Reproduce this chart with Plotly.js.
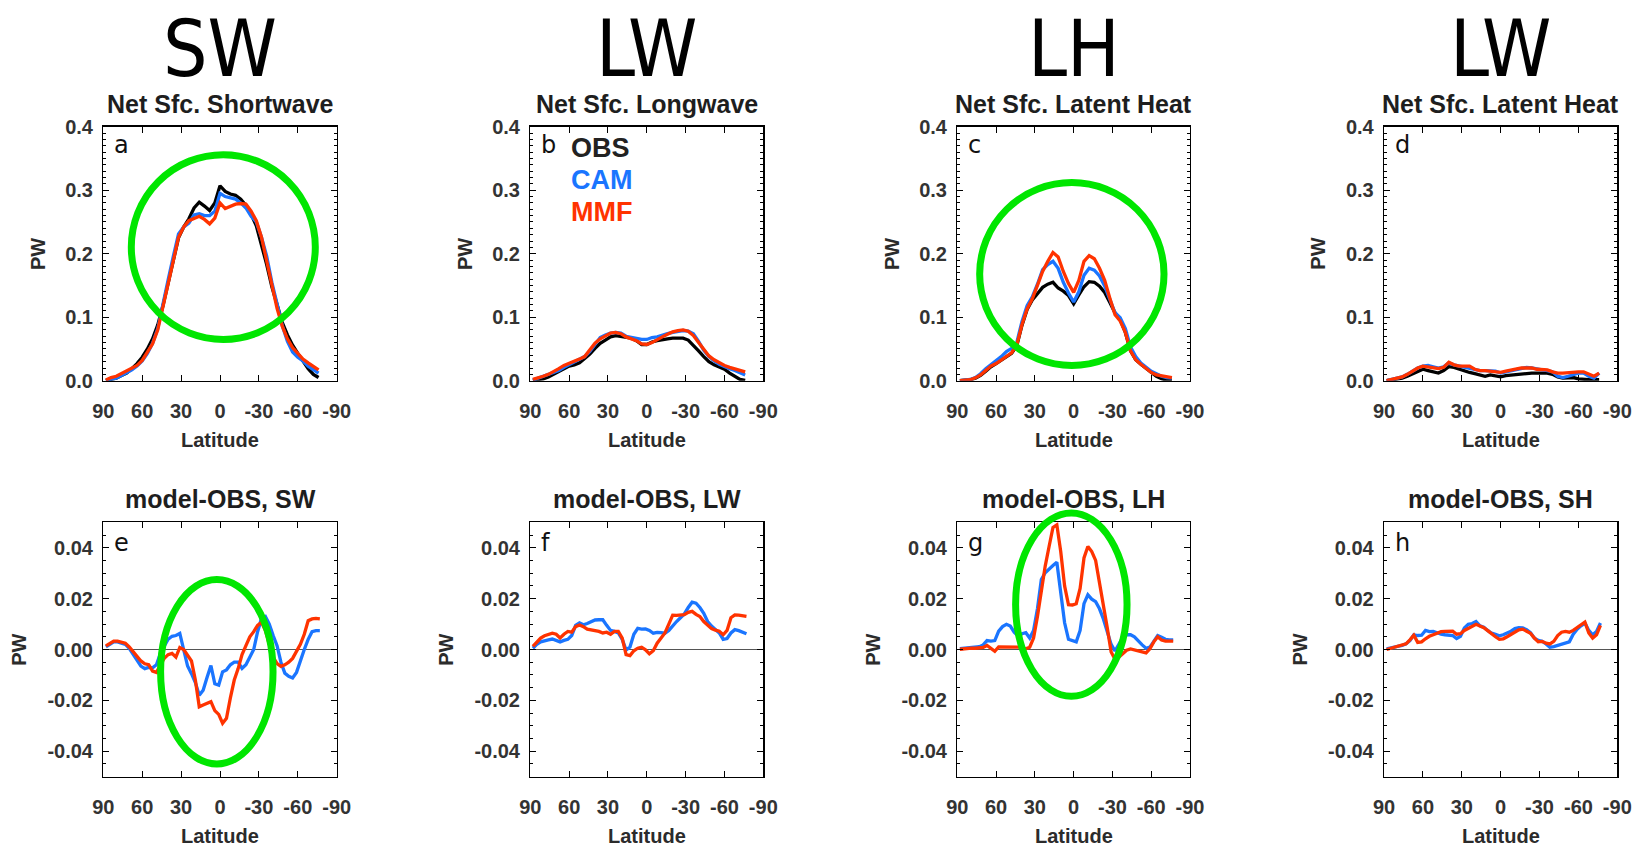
<!DOCTYPE html>
<html><head><meta charset="utf-8">
<script src="https://cdn.plot.ly/plotly-3.0.1.min.js"></script>
<style>html,body{margin:0;padding:0;background:#fff;}#chart{width:1641px;height:846px;}</style>
</head><body><div id="chart"></div>
<script>
// ---------- latitude grids ----------
const LAT_TOP = [88,84,80,76,72,68,64,60,56,52,48,44,40,36,32,28,24,20,16,12,8,4,0,-4,-8,-12,-16,-20,-24,-28,-32,-36,-40,-44,-48,-52,-56,-60,-64,-68,-72,-76];
const LAT_DIFF = [88,85,82,79,76,73,70,67,64,61,58,55,52,49,46,43,40,37,34,31,28,25,22,19,16,13,10,7,4,1,-2,-5,-8,-11,-14,-17,-20,-23,-26,-29,-32,-35,-38,-41,-44,-47,-50,-53,-56,-59,-62,-65,-68,-71,-74,-77];

// ---------- top row: net surface fluxes (PW) ----------
const SW_OBS = [0.000,0.002,0.004,0.008,0.012,0.019,0.027,0.037,0.050,0.066,0.088,0.118,0.155,0.191,0.225,0.242,0.255,0.272,0.281,0.275,0.268,0.280,0.307,0.298,0.294,0.292,0.286,0.276,0.262,0.244,0.215,0.183,0.148,0.118,0.092,0.072,0.056,0.043,0.031,0.019,0.010,0.005];
const SW_CAM = [0.001,0.002,0.004,0.008,0.012,0.017,0.023,0.031,0.043,0.059,0.082,0.118,0.159,0.196,0.231,0.242,0.248,0.261,0.263,0.260,0.260,0.267,0.295,0.290,0.288,0.286,0.280,0.272,0.259,0.250,0.226,0.196,0.155,0.120,0.087,0.062,0.045,0.037,0.031,0.023,0.017,0.012];
const SW_MMF = [0.001,0.005,0.007,0.011,0.015,0.020,0.024,0.032,0.044,0.058,0.080,0.115,0.153,0.189,0.226,0.242,0.252,0.256,0.259,0.254,0.247,0.256,0.280,0.271,0.274,0.278,0.279,0.278,0.267,0.252,0.226,0.190,0.152,0.114,0.086,0.066,0.052,0.042,0.034,0.028,0.022,0.017];

const LW_OBS = [0.0005,0.002,0.003,0.006,0.010,0.015,0.019,0.023,0.025,0.028,0.035,0.042,0.051,0.059,0.064,0.069,0.071,0.070,0.069,0.067,0.063,0.057,0.057,0.061,0.063,0.065,0.066,0.067,0.067,0.067,0.064,0.056,0.047,0.038,0.030,0.025,0.021,0.018,0.012,0.007,0.002,0.0005];
const LW_CAM = [0.001,0.004,0.007,0.009,0.012,0.016,0.021,0.025,0.030,0.034,0.038,0.046,0.058,0.068,0.072,0.075,0.076,0.075,0.070,0.068,0.067,0.065,0.065,0.068,0.069,0.072,0.074,0.076,0.078,0.079,0.078,0.074,0.062,0.048,0.038,0.031,0.026,0.022,0.019,0.016,0.013,0.009];
const LW_MMF = [0.002,0.004,0.007,0.010,0.014,0.019,0.024,0.027,0.031,0.034,0.038,0.048,0.059,0.066,0.071,0.075,0.076,0.074,0.069,0.066,0.063,0.058,0.057,0.060,0.065,0.069,0.073,0.077,0.079,0.080,0.078,0.071,0.060,0.049,0.039,0.033,0.028,0.024,0.021,0.019,0.016,0.014];

const LH_OBS = [0.000,0.0005,0.0015,0.004,0.0085,0.015,0.022,0.027,0.032,0.037,0.043,0.055,0.087,0.112,0.127,0.137,0.147,0.152,0.155,0.146,0.141,0.134,0.121,0.135,0.148,0.156,0.155,0.149,0.139,0.123,0.107,0.096,0.076,0.047,0.033,0.026,0.020,0.013,0.007,0.003,0.001,0.0005];
const LH_CAM = [0.000,0.001,0.002,0.005,0.011,0.019,0.025,0.031,0.038,0.046,0.051,0.060,0.093,0.118,0.132,0.152,0.175,0.183,0.188,0.177,0.155,0.138,0.124,0.140,0.166,0.177,0.174,0.165,0.149,0.128,0.107,0.099,0.082,0.053,0.038,0.028,0.021,0.015,0.011,0.007,0.005,0.004];
const LH_MMF = [0.000,0.0005,0.0015,0.0045,0.009,0.016,0.023,0.027,0.033,0.038,0.044,0.056,0.088,0.113,0.129,0.150,0.172,0.188,0.202,0.195,0.172,0.153,0.139,0.158,0.188,0.197,0.192,0.177,0.158,0.130,0.104,0.094,0.076,0.047,0.033,0.026,0.019,0.013,0.009,0.008,0.006,0.005];

const SH_OBS = [0.000,0.001,0.002,0.004,0.007,0.011,0.015,0.018,0.016,0.014,0.012,0.016,0.022,0.021,0.018,0.015,0.013,0.011,0.009,0.007,0.009,0.008,0.006,0.008,0.009,0.0095,0.010,0.011,0.012,0.012,0.012,0.012,0.010,0.006,0.004,0.0045,0.005,0.003,0.002,0.0015,0.0015,0.0015];
const SH_CAM = [0.000,0.002,0.003,0.006,0.010,0.015,0.020,0.023,0.024,0.022,0.020,0.022,0.028,0.025,0.023,0.022,0.020,0.018,0.016,0.016,0.016,0.015,0.012,0.014,0.016,0.018,0.020,0.021,0.020,0.018,0.017,0.016,0.014,0.007,0.005,0.007,0.010,0.012,0.012,0.007,0.004,0.012];
const SH_MMF = [0.000,0.002,0.003,0.006,0.010,0.015,0.020,0.023,0.022,0.021,0.019,0.021,0.029,0.025,0.023,0.023,0.023,0.018,0.016,0.016,0.015,0.014,0.013,0.015,0.017,0.019,0.020,0.020,0.020,0.018,0.017,0.017,0.014,0.012,0.012,0.013,0.014,0.014,0.014,0.010,0.007,0.012];

// ---------- bottom row: model minus OBS (PW) ----------
const SW_CAM_D = [0.001,0.002,0.003,0.003,0.0025,0.002,0.0005,-0.002,-0.004,-0.0065,-0.0075,-0.007,-0.0072,-0.006,-0.0015,0.001,0.004,0.0052,0.0055,0.0063,-0.0003,-0.0065,-0.0095,-0.013,-0.018,-0.016,-0.011,-0.0063,-0.0135,-0.014,-0.0088,-0.008,-0.006,-0.005,-0.005,-0.0074,-0.006,-0.003,0.000,0.007,0.0122,0.013,0.010,0.0055,0.0015,-0.005,-0.0093,-0.0105,-0.0112,-0.009,-0.004,0.000,0.004,0.007,0.0074,0.0074];
const SW_MMF_D = [0.0014,0.0025,0.0033,0.0033,0.003,0.0025,0.001,-0.001,-0.0028,-0.0045,-0.0056,-0.006,-0.0085,-0.009,-0.006,-0.0035,-0.002,-0.0015,-0.003,0.0008,0.000,-0.0025,-0.0045,-0.012,-0.0225,-0.0218,-0.0212,-0.0205,-0.024,-0.0255,-0.029,-0.027,-0.019,-0.012,-0.0075,-0.002,0.0015,0.005,0.007,0.0095,0.0107,0.0075,0.002,-0.003,-0.0055,-0.0066,-0.006,-0.005,-0.0035,-0.001,0.002,0.006,0.0113,0.012,0.0122,0.012];

const LW_CAM_D = [0.0005,0.002,0.003,0.0035,0.0038,0.0041,0.0035,0.003,0.0036,0.004,0.0055,0.0095,0.0105,0.0097,0.0102,0.011,0.0116,0.0117,0.0117,0.0095,0.0075,0.0071,0.0065,0.004,-0.0002,0.001,0.006,0.0083,0.008,0.0081,0.0075,0.0064,0.0067,0.0066,0.0064,0.0075,0.0095,0.011,0.0125,0.014,0.0165,0.0186,0.0182,0.0165,0.0142,0.011,0.0092,0.0078,0.0065,0.004,0.0043,0.0065,0.0078,0.0074,0.0068,0.0062];
const LW_MMF_D = [0.0012,0.003,0.0045,0.0054,0.006,0.0064,0.006,0.0045,0.006,0.0071,0.0068,0.009,0.0096,0.009,0.008,0.0078,0.0076,0.0071,0.0065,0.0068,0.006,0.0071,0.0071,0.0045,-0.002,-0.0024,-0.0005,0.0005,0.0009,-0.0001,-0.0017,-0.0005,0.0025,0.0045,0.0065,0.010,0.0135,0.0134,0.0136,0.0137,0.0146,0.015,0.0138,0.013,0.011,0.0095,0.0082,0.0076,0.0072,0.0058,0.0075,0.0125,0.0136,0.0135,0.0132,0.013];

const LH_CAM_D = [0.0003,0.0004,0.0005,0.0007,0.0009,0.0011,0.0018,0.0035,0.0033,0.0035,0.0072,0.009,0.0099,0.0092,0.0068,0.0053,0.0062,0.0066,0.0045,0.0075,0.016,0.0275,0.0302,0.0318,0.033,0.0343,0.022,0.0105,0.004,0.0035,0.003,0.0075,0.018,0.0215,0.0198,0.0188,0.016,0.012,0.0075,0.002,-0.0006,0.002,0.0048,0.0058,0.0058,0.005,0.0033,0.0018,0.0005,0.0009,0.0032,0.0055,0.0048,0.004,0.0038,0.0038];
const LH_MMF_D = [0.0001,0.0003,0.0004,0.0005,0.0005,0.0006,0.0008,0.0016,0.0006,-0.0007,0.001,0.001,0.0009,0.0012,0.001,0.0009,0.0008,0.0003,0.0009,0.0045,0.013,0.0232,0.0328,0.0405,0.048,0.049,0.0385,0.025,0.0176,0.0175,0.018,0.024,0.036,0.0405,0.0385,0.035,0.0265,0.018,0.0085,-0.001,-0.0038,-0.003,-0.0016,-0.0003,0.0002,-0.0002,-0.0006,-0.001,-0.0013,0.0003,0.003,0.005,0.0037,0.0033,0.0033,0.0033];

const SH_CAM_D = [0.0003,0.0006,0.001,0.0013,0.0016,0.0022,0.0035,0.0058,0.0055,0.0056,0.0075,0.007,0.0071,0.0066,0.006,0.0058,0.0057,0.0055,0.0043,0.0052,0.0085,0.0099,0.0102,0.011,0.0093,0.0088,0.0075,0.0064,0.006,0.0054,0.0058,0.0064,0.0072,0.0082,0.0086,0.0085,0.0078,0.0066,0.0045,0.0036,0.0032,0.0022,0.0009,0.0011,0.0016,0.002,0.0025,0.003,0.006,0.008,0.0093,0.0104,0.0075,0.0058,0.0071,0.0104];
const SH_MMF_D = [0.0000,0.0004,0.0008,0.0012,0.0015,0.0022,0.0038,0.0056,0.0028,0.003,0.0042,0.0052,0.0058,0.0064,0.007,0.0071,0.0073,0.0072,0.006,0.0062,0.0075,0.0082,0.0092,0.0099,0.0092,0.0086,0.0074,0.006,0.005,0.004,0.0042,0.005,0.006,0.007,0.0077,0.008,0.0072,0.0064,0.0045,0.003,0.0032,0.0025,0.0022,0.0032,0.0055,0.0068,0.0071,0.0068,0.0075,0.0085,0.0098,0.0108,0.0065,0.0045,0.0058,0.0095];

// ---------- labels ----------
const X_TICKS = [90,60,30,0,-30,-60,-90];
const X_TICK_TEXT = ['90','60','30','0','-30','-60','-90'];
const Y_TICKS_FLUX = [0,0.1,0.2,0.3,0.4];
const Y_TICK_TEXT_FLUX = ['0.0','0.1','0.2','0.3','0.4'];
const Y_TICKS_DIFF = [-0.04,-0.02,0,0.02,0.04];
const Y_TICK_TEXT_DIFF = ['-0.04','-0.02','0.00','0.02','0.04'];
const HEADERS = ['SW','LW','LH','LW'];
const TITLES_TOP = ['Net Sfc. Shortwave','Net Sfc. Longwave','Net Sfc. Latent Heat','Net Sfc. Latent Heat'];
const TITLES_DIFF = ['model-OBS, SW','model-OBS, LW','model-OBS, LH','model-OBS, SH'];
const LETTERS = ['a','b','c','d','e','f','g','h'];
const NAMES_TOP = ['OBS','CAM','MMF'];
const NAMES_DIFF = ['CAM','MMF'];

// ---------- styling / geometry ----------
const W = 1641, H = 846;
const COL_PX = [[103.3,336.7],[530.3,763.3],[957.3,1190],[1384,1617.3]];
const ROW_PX = [[126.7,380.7],[522.3,776.7]];
const COLORS = {OBS:'#000000', CAM:'#1a75ff', MMF:'#ff3300'};
const GREEN = '#00e600';
const BOLD = 'Liberation Sans, Arial, Helvetica, sans-serif';
const TXT = '#2b2b2b';

const TOP_SERIES = [[SW_OBS,SW_CAM,SW_MMF],[LW_OBS,LW_CAM,LW_MMF],[LH_OBS,LH_CAM,LH_MMF],[SH_OBS,SH_CAM,SH_MMF]];
const DIFF_SERIES = [[SW_CAM_D,SW_MMF_D],[LW_CAM_D,LW_MMF_D],[LH_CAM_D,LH_MMF_D],[SH_CAM_D,SH_MMF_D]];

// highlight ellipses (panel index, latitude span, value span)
const HIGHLIGHTS = [
  {panel:0, lat:[68.4,-73.5], val:[0.065,0.356]},
  {panel:2, lat:[72.7,-69.9], val:[0.024,0.312]},
  {panel:4, lat:[45.8,-40.9], val:[-0.045,0.0275]},
  {panel:6, lat:[44.9,-41.3], val:[-0.0184,0.0537]}
];

const YRANGE = [[0,0.4],[-0.05,0.05]];

const traces = [];
const layout = {
  width: W, height: H,
  margin: {l:0, r:0, t:0, b:0},
  paper_bgcolor: '#fff', plot_bgcolor: '#fff',
  showlegend: false,
  annotations: [], shapes: []
};

function pxX(p){ return p / W; }
function pxY(p){ return 1 - p / H; }
function latToPx(col, lat){ const [a,b] = COL_PX[col]; return a + (90 - lat) / 180 * (b - a); }
function valToPx(row, v){ const [t,b] = ROW_PX[row]; const [lo,hi] = YRANGE[row]; return b - (v - lo) / (hi - lo) * (b - t); }

for (let row = 0; row < 2; row++) {
  for (let col = 0; col < 4; col++) {
    const k = row * 4 + col + 1;
    const xa = 'xaxis' + (k === 1 ? '' : k), ya = 'yaxis' + (k === 1 ? '' : k);
    const xr = 'x' + (k === 1 ? '' : k), yr = 'y' + (k === 1 ? '' : k);
    const lat = row === 0 ? LAT_TOP : LAT_DIFF;
    const sets = row === 0 ? TOP_SERIES[col] : DIFF_SERIES[col];
    const names = row === 0 ? NAMES_TOP : NAMES_DIFF;
    sets.forEach((ys, i) => {
      traces.push({type:'scatter', mode:'lines', x: lat, y: ys, xaxis: xr, yaxis: yr,
        name: names[i], line: {color: COLORS[names[i]], width: 3.3}, hoverinfo:'skip'});
    });
    layout[xa] = {
      domain: [pxX(COL_PX[col][0]), pxX(COL_PX[col][1])],
      range: [90, -90], anchor: yr, fixedrange: true,
      tickmode: 'array', tickvals: X_TICKS, ticktext: X_TICK_TEXT,
      ticks: 'inside', ticklen: 6, tickwidth: 1, tickcolor: '#000',
      showline: true, linecolor: '#000', linewidth: 1.3, mirror: 'allticks',
      showgrid: false, zeroline: false,
      tickfont: {family: BOLD, size: 20, color: '#333', weight: 'bold'},
      ticklabelstandoff: 12
    };
    layout[ya] = {
      domain: [pxY(ROW_PX[row][1]), pxY(ROW_PX[row][0])],
      range: YRANGE[row], anchor: xr, fixedrange: true,
      tickmode: 'array',
      tickvals: row === 0 ? Y_TICKS_FLUX : Y_TICKS_DIFF,
      ticktext: row === 0 ? Y_TICK_TEXT_FLUX : Y_TICK_TEXT_DIFF,
      ticks: 'inside', ticklen: 6, tickwidth: 1, tickcolor: '#000',
      minor: {tickmode: 'linear', tick0: 0, dtick: row === 0 ? 0.01 : 0.005, ticks: 'inside', ticklen: 3, tickwidth: 1, tickcolor: '#000', showgrid: false},
      showline: true, linecolor: '#000', linewidth: 1.3, mirror: 'allticks',
      showgrid: false,
      zeroline: row === 1, zerolinecolor: '#555', zerolinewidth: 1,
      tickfont: {family: BOLD, size: 20, color: '#333', weight: 'bold'},
      ticklabelstandoff: 5
    };

    const cx = (COL_PX[col][0] + COL_PX[col][1]) / 2;
    const [top, bot] = ROW_PX[row];
    // panel title
    layout.annotations.push({xref:'paper', yref:'paper', x: pxX(cx), y: pxY(top - 23), xanchor:'center', yanchor:'middle', showarrow:false,
      text: row === 0 ? TITLES_TOP[col] : TITLES_DIFF[col], font: {family: BOLD, size: 25, color: '#1e1e1e', weight: 'bold'}});
    // panel letter
    layout.annotations.push({xref:'paper', yref:'paper', x: pxX(COL_PX[col][0] + 9), y: pxY(top + (row === 0 ? 18 : 21)), xanchor:'left', yanchor:'middle', showarrow:false,
      text: LETTERS[k - 1], font: {family: 'DejaVu Sans, Noto Sans, sans-serif', size: 24, color: '#111'}});
    // axis titles
    layout.annotations.push({xref:'paper', yref:'paper', x: pxX(COL_PX[col][0] - (row === 0 ? 66 : 85)), y: pxY((top + bot) / 2), xanchor:'center', yanchor:'middle', showarrow:false,
      textangle: -90, text: 'PW', font: {family: BOLD, size: 20, color: TXT, weight: 'bold'}});
    layout.annotations.push({xref:'paper', yref:'paper', x: pxX(cx), y: pxY(bot + 59), xanchor:'center', yanchor:'middle', showarrow:false,
      text: 'Latitude', font: {family: BOLD, size: 20, color: TXT, weight: 'bold'}});
  }
}

// big column headers
HEADERS.forEach((h, col) => {
  const cx = (COL_PX[col][0] + COL_PX[col][1]) / 2;
  layout.annotations.push({xref:'paper', yref:'paper', x: pxX(cx), y: pxY(49), xanchor:'center', yanchor:'middle', showarrow:false,
    text: h, font: {family: "'DejaVu Sans Condensed', 'Liberation Sans Narrow', 'Noto Sans', sans-serif", size: 78, color: '#000'}});
});

// legend text in panel b
const LEG_Y = [148, 180, 212];
NAMES_TOP.forEach((n, i) => {
  layout.annotations.push({xref:'paper', yref:'paper', x: pxX(569), y: pxY(LEG_Y[i]), xanchor:'left', yanchor:'middle', showarrow:false,
    text: n, font: {family: BOLD, size: 27, color: n === 'OBS' ? '#222' : COLORS[n], weight: 'bold'}});
});

// green highlight ellipses
HIGHLIGHTS.forEach(hl => {
  const row = hl.panel < 4 ? 0 : 1, col = hl.panel % 4;
  layout.shapes.push({type:'circle', xref:'paper', yref:'paper', layer:'above',
    x0: pxX(latToPx(col, hl.lat[0])), x1: pxX(latToPx(col, hl.lat[1])),
    y0: pxY(valToPx(row, hl.val[0])), y1: pxY(valToPx(row, hl.val[1])),
    line: {color: GREEN, width: 7}, fillcolor: 'rgba(0,0,0,0)'});
});

Plotly.newPlot('chart', traces, layout, {staticPlot: true, displayModeBar: false});
</script>
</body></html>
